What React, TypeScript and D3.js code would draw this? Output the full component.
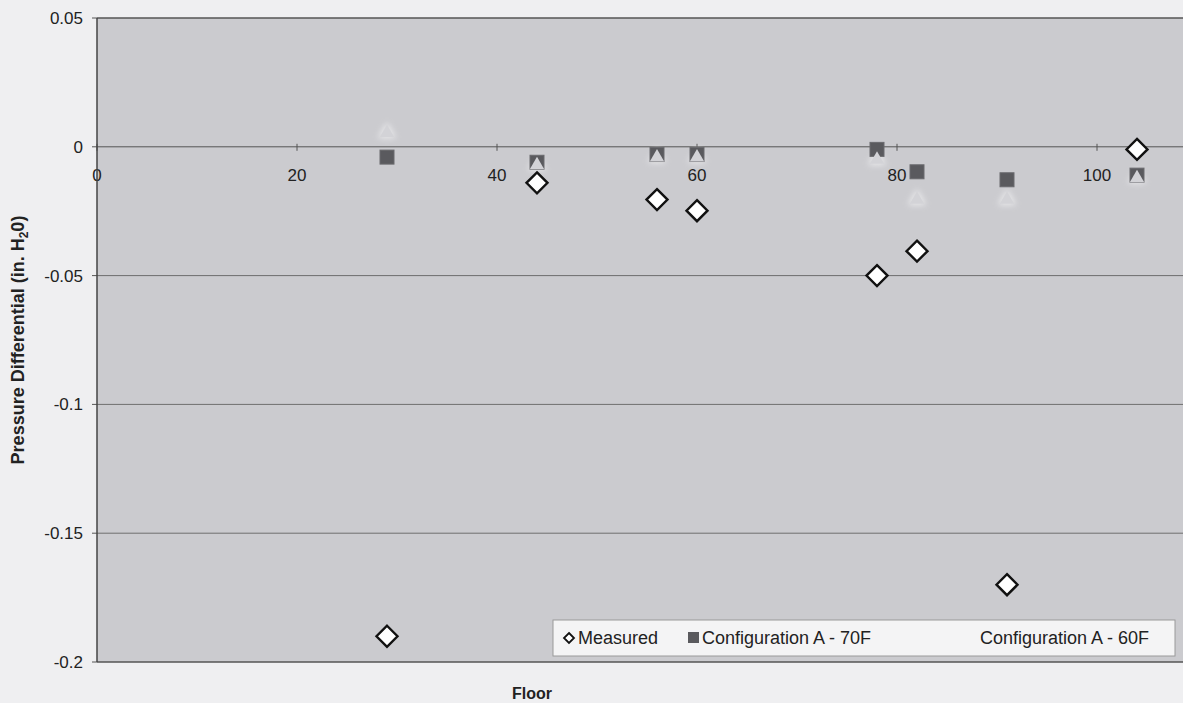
import React from "react";
import * as d3 from "d3";

const floors = [29, 44, 56, 60, 78, 82, 91, 104];
const measured = [-0.19, -0.014, -0.0205, -0.0248, -0.05, -0.0405, -0.17, -0.001];
const configA70 = [-0.004, -0.006, -0.003, -0.003, -0.001, -0.0097, -0.0128, -0.011];
const configA60 = [0.0054, -0.0071, -0.0041, -0.0041, -0.005, -0.0205, -0.0205, -0.0121];
const xTicks = [0, 20, 40, 60, 80, 100];
const yTicks = [0.05, 0, -0.05, -0.1, -0.15, -0.2];
const seriesNames = ["Measured", "Configuration A - 70F", "Configuration A - 60F"];

const W = 1183;
const H = 703;
const L = 97, R = 1183, T = 18, B = 662;

export default function App() {
  const x = d3.scaleLinear().domain([0, 108.6]).range([L, R]);
  const y = d3.scaleLinear().domain([-0.2, 0.05]).range([B, T]);
  const tri = d3.symbol().type(d3.symbolTriangle).size(90)() as string;
  const glowTri = d3.symbol().type(d3.symbolTriangle).size(150)() as string;
  const font = "'Liberation Sans', Arial, sans-serif";
  const fmtY = (v: number) => (v === 0 ? "0" : String(+v.toFixed(2)));
  const diamond = (cx: number, cy: number, r: number) =>
    `M${cx},${cy - r}L${cx + r},${cy}L${cx},${cy + r}L${cx - r},${cy}Z`;

  return (
    <svg width={W} height={H} style={{ position: "absolute", left: 0, top: 0 }} fontFamily={font}>
      <defs>
        <filter id="glow" x="-100%" y="-100%" width="300%" height="300%">
          <feGaussianBlur stdDeviation="3" />
        </filter>
      </defs>
      <rect x={0} y={0} width={W} height={H} fill="#efeff1" />
      <rect x={L} y={T} width={R - L} height={B - T} fill="#cbcbcf" />
      {yTicks.filter((v) => v !== 0.05 && v !== -0.2).map((v) => (
        <line key={v} x1={L} x2={R} y1={y(v)} y2={y(v)} stroke={v === 0 ? "#555" : "#6e6e6e"} strokeWidth={1} />
      ))}
      <line x1={L} x2={R} y1={T} y2={T} stroke="#555" strokeWidth={1.5} />
      <line x1={L} x2={R} y1={B} y2={B} stroke="#555" strokeWidth={1.5} />
      {yTicks.map((v) => (
        <g key={"yt" + v}>
          <line x1={L - 5} x2={L} y1={y(v)} y2={y(v)} stroke="#555" />
          <text x={L - 14} y={y(v)} dy="0.35em" textAnchor="end" fontSize={17} fill="#222">
            {fmtY(v)}
          </text>
        </g>
      ))}
      {xTicks.map((v) => (
        <g key={"xt" + v}>
          <line x1={x(v)} x2={x(v)} y1={y(0) - 3} y2={y(0) + 4} stroke="#555" />
          <text x={x(v)} y={y(0) + 34} textAnchor="middle" fontSize={17} fill="#222">
            {v}
          </text>
        </g>
      ))}
      <line x1={L} x2={L} y1={T} y2={B} stroke="#444" strokeWidth={1.5} />
      {floors.map((f, i) => (
        <path key={"g" + i} d={glowTri} transform={`translate(${x(f)},${y(configA60[i])})`} fill="#ffffff" opacity={0.6} filter="url(#glow)" />
      ))}
      {floors.map((f, i) => (
        <rect key={"s" + i} x={x(f) - 7} y={y(configA70[i]) - 7} width={14} height={14} fill="#5a5a5e" stroke="#6a6a6e" strokeWidth={1} />
      ))}
      {floors.map((f, i) => (
        <path key={"t" + i} d={tri} transform={`translate(${x(f)},${y(configA60[i])})`} fill="#d3d3d7" />
      ))}
      {floors.map((f, i) => (
        <path key={"d" + i} d={diamond(x(f), y(measured[i]), 10.5)} fill="#ffffff" stroke="#111" strokeWidth={2.4} />
      ))}
      <rect x={553} y={620} width={622} height={36} fill="#f4f4f5" stroke="#9a9a9a" strokeWidth={1} />
      <path d={diamond(569, 638, 5)} fill="#fff" stroke="#111" strokeWidth={1.8} />
      <text x={578} y={638} dy="0.35em" fontSize={18} fill="#222">{seriesNames[0]}</text>
      <rect x={688} y={632} width={11} height={11} fill="#5a5a5e" />
      <text x={702} y={638} dy="0.35em" fontSize={18} fill="#222">{seriesNames[1]}</text>
      <text x={980} y={638} dy="0.35em" fontSize={18} fill="#222">{seriesNames[2]}</text>
      <text x={532} y={699} textAnchor="middle" fontSize={16} fontWeight="bold" fill="#222">Floor</text>
      <text transform={`translate(24,340) rotate(-90)`} textAnchor="middle" fontSize={18} fontWeight="bold" fill="#222">
        Pressure Differential (in. H<tspan fontSize={12} dy={4}>2</tspan><tspan dy={-4}>0)</tspan>
      </text>
    </svg>
  );
}
